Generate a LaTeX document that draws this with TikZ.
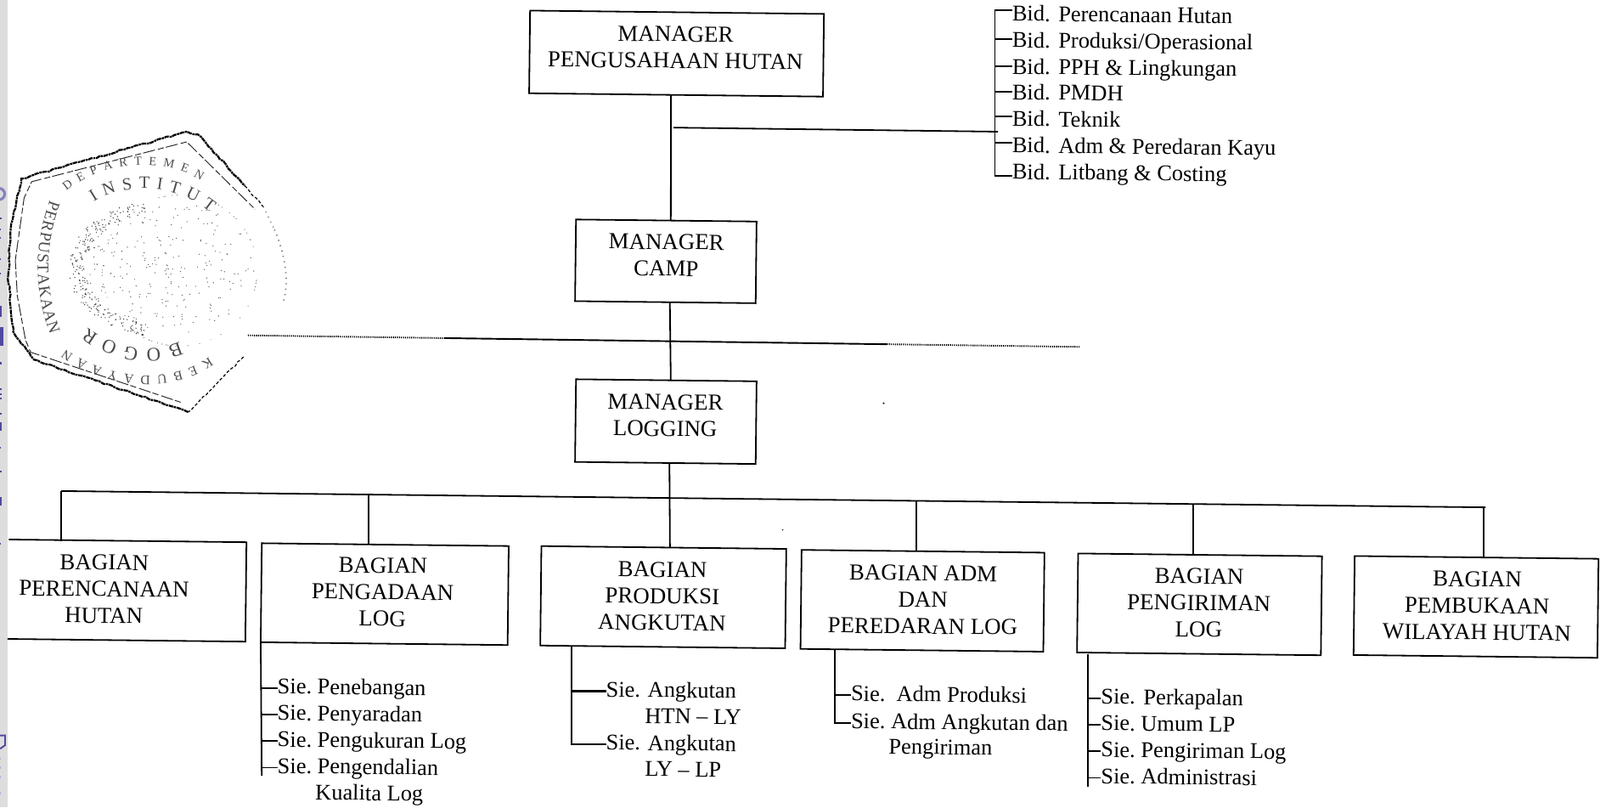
\documentclass[tikz,border=0pt]{standalone}
\usepackage{fontspec}
\setmainfont{Liberation Serif}
\usetikzlibrary{decorations.text,decorations.pathmorphing,calc}
\definecolor{stripgray}{HTML}{DDDDDD}
\definecolor{markblue}{HTML}{4F4A9F}
\tikzset{
  x=.5pt,y=-.5pt,
  ln/.style={line width=.75pt,black},
  bx/.style={draw=black,line width=.75pt,rotate=-.65,inner sep=0pt,outer sep=0pt},
  bxopen/.style={bx,draw=none},
  lbl/.style={rotate=-.65,align=center,inner sep=0pt,outer sep=0pt,font=\fontsize{11.2}{13}\selectfont},
  item/.style={anchor=west,rotate=-.65,inner sep=0pt,outer sep=0pt,text height=7.5pt,text depth=2pt,
             font=\fontsize{11}{13}\selectfont},
  stampline/.style={line width=.95pt,black,dash pattern=on 2.2pt off .35pt on 1.1pt off .3pt,decorate,decoration={random steps,segment length=2pt,amplitude=.4pt}},
  stampthin/.style={line width=.4pt,black!85,dash pattern=on 3pt off 1pt on 6pt off 1.5pt},
  stampfade/.style={line width=.5pt,black!55,dash pattern=on .5pt off 2.2pt},
  stamptext/.style n args={2}{decorate,decoration={text along path,text align=fit to path,
      text={|\fontsize{#1}{#1}\selectfont\color{black!70}|#2}}},
  speck/.style={fill=black!80,draw=none},
}
\begin{document}
\begin{tikzpicture}
\useasboundingbox (0,0) rectangle (1568,791);
\fill[white] (0,0) rectangle (1568,791);

% left strip with the cut remains of the margin mark
\fill[stripgray] (0,0) rectangle (7.5,791);
\begin{scope}
\clip (0,0) rectangle (7.5,791);
\draw[markblue!70,line width=1.3pt] (-1,190) circle (5.6);
\foreach \a/\b/\w in {256/258/2,269/271/1.5,279/281/1.5,304/306/1.5,321/323/1.5,360/373/2,385/407/3.5,426/429/2,
   457/459/2,463/465/2,468/470/2,486/488/2,497/507/2,526/528/1.5,554/556/2,585/595/2,639/641/1.5}
  {\fill[markblue] (0,{\a/1.2015}) rectangle ({\w/1.2015},{\b/1.2015});}
\draw[markblue,line width=.8pt] (0,720.5) -- (5,720.5) -- (5,730) -- (0,733.5);
\foreach \a in {742,751,760,776}
  {\fill[markblue!45] (0,\a) rectangle (1,{\a+2});}
\end{scope}

% stamp
\draw[stampline] (8,270) -- (11,219) -- (21,175) -- (183,129) -- (194,131.8) -- (240,182);
\draw[stampline] (184.5,403.7) -- (33.3,352.3) -- (13,325) -- (8,270);
\draw[stampline,line width=.5pt,dash pattern=on 1.5pt off 1pt] (240,182) -- (258,202.5);
\draw[stampline,line width=.5pt,dash pattern=on 1.5pt off 1pt] (238.6,349.6) -- (184.5,403.7);
\draw[stampfade] (258,202.5) -- (269,225);
\draw[stampfade,line width=.7pt] (269,225) .. controls (280,250) and (284,280) .. (277,297);
\draw[stampthin] (15,255) -- (23.6,194) -- (31,178) -- (183,139) -- (250,205);
\draw[stampthin] (177,394) -- (30,345) -- (25,333) -- (17,290) -- (15,255);
\path[stamptext={6}{D E P A R T E M E N}] (65,187) .. controls (100,158) and (160,153) .. (197,177);
\path[stamptext={8.5}{I N S T I T U T}] (92,198) .. controls (120,179) and (172,179) .. (206,208);
\path[stamptext={8}{PERPUSTAKAAN}] (49,196) .. controls (33,240) and (33,282) .. (49,328);
\path[stamptext={9.5}{B O G O R}] (176,335) .. controls (150,347) and (115,343) .. (86,321);
\path[stamptext={6.5}{K E B U D A Y A A N}] (205,350) .. controls (170,375) and (110,375) .. (64,342);
\pgfmathsetseed{11}
\foreach \i in {1,...,260}{
  \pgfmathsetmacro\ang{rnd*360}
  \pgfmathsetmacro\rad{sqrt(rnd)}
  \fill[black!65] ({158+91*\rad*cos(\ang)},{263+67*\rad*sin(\ang)}) circle (.55);
}
\foreach \i in {1,...,230}{
  \pgfmathsetmacro\ang{100+rnd*160}
  \pgfmathsetmacro\rad{.82+.18*rnd}
  \fill[black!75] ({158+91*\rad*cos(\ang)},{263+67*\rad*sin(\ang)}) circle (.6);
}
\foreach \i in {1,...,50}{
  \pgfmathsetmacro\ang{rnd*360}
  \fill[black!60] ({176+76*cos(\ang)},{265+74*sin(\ang)}) circle (.5);
}

% horizontal line across the camp level
\coordinate (ha) at (243,328.5);
\coordinate (hb) at (436,331.2);
\coordinate (hc) at (869,337.2);
\coordinate (hd) at (1058.5,339.8);
\draw[line width=.8pt,dash pattern=on .5pt off .5pt] (ha) -- (hb);
\draw[line width=.8pt] (hb) -- (hc);
\draw[line width=.8pt,dash pattern=on .5pt off .5pt] (hc) -- (hd);

% managers
\node[bx,minimum width=144pt,minimum height=40.5pt] (m1) at (663,52.5) {};
\node[lbl] (m1t) at (662,46.5) {MANAGER\\PENGUSAHAAN HUTAN};
\node[bx,minimum width=88.5pt,minimum height=40pt] (m2) at (652.5,256) {};
\node[lbl] (m2t) at (653,250) {MANAGER\\CAMP};
\node[bx,minimum width=88.5pt,minimum height=40.5pt] (m3) at (652.5,413) {};
\node[lbl] (m3t) at (652,407) {MANAGER\\LOGGING};

% bagian
\node[bxopen,minimum width=116.5pt,minimum height=48.7pt] (b1) at (124.5,578.5) {};
\node[lbl] (b1t) at (102,577) {BAGIAN\\PERENCANAAN\\HUTAN};
\node[bx,minimum width=121pt,minimum height=48.5pt] (b2) at (377,582) {};
\node[lbl] (b2t) at (375,580) {BAGIAN\\PENGADAAN\\LOG};
\node[bx,minimum width=120pt,minimum height=48.7pt] (b3) at (650,585) {};
\node[lbl] (b3t) at (649,584) {BAGIAN\\PRODUKSI\\ANGKUTAN};
\node[bx,minimum width=119pt,minimum height=48.5pt] (b4) at (904,588.5) {};
\node[lbl] (b4t) at (904.5,587.5) {BAGIAN ADM\\DAN\\PEREDARAN LOG};
\node[bx,minimum width=119.5pt,minimum height=48.5pt] (b5) at (1175.5,592) {};
\node[lbl] (b5t) at (1175,590.5) {BAGIAN\\PENGIRIMAN\\LOG};
\node[bx,minimum width=119.5pt,minimum height=48.5pt] (b6) at (1446.5,594.5) {};
\node[lbl] (b6t) at (1447.5,593.5) {BAGIAN\\PEMBUKAAN\\WILAYAH HUTAN};
\draw[ln] (b1.north west) -- (b1.north east) -- (b1.south east) -- (b1.south west);

% trunk
\draw[ln] ([xshift=-2.5pt]m1.south) -- ([xshift=2.2pt]m2.north);
\draw[ln] ([xshift=2.2pt]m2.south) -- ([xshift=2.2pt]m3.north);
\draw[ln] ([xshift=2pt]m3.south) -- ([xshift=3pt]b3.north);

% main horizontal bus
\coordinate (busl) at (60,481);
\coordinate (busr) at (1456,497);
\draw[ln] (busl) -- (busr);
\draw[ln] (busl) -- (busl |- b1.north);
\coordinate (bus2) at (361,484.5);
\draw[ln] (bus2) -- (bus2 |- b2.north);
\coordinate (bus4) at (898,491);
\draw[ln] (bus4) -- (bus4 |- b4.north);
\coordinate (bus5) at (1169,494);
\draw[ln] (bus5) -- (bus5 |- b5.north);
\coordinate (bus6) at (1454,497);
\draw[ln] (bus6) -- (bus6 |- b6.north);

% Bidang list
\node[item] (bid1) at (992,15) {Bid.\hspace{4pt}Perencanaan Hutan};
\node[item] (bid2) at (992,41) {Bid.\hspace{4pt}Produksi/Operasional};
\node[item] (bid3) at (992,67) {Bid.\hspace{4pt}PPH \& Lingkungan};
\node[item] (bid4) at (992,92) {Bid.\hspace{4pt}PMDH};
\node[item] (bid5) at (992,118) {Bid.\hspace{4pt}Teknik};
\node[item] (bid6) at (992,144) {Bid.\hspace{4pt}Adm \& Peredaran Kayu};
\node[item] (bid7) at (992,170) {Bid.\hspace{4pt}Litbang \& Costing};
\coordinate (bidspine) at (975,8);
\coordinate (bt1) at ([yshift=2.6pt]bid1.west);
\coordinate (bt7) at ([yshift=-1pt]bid7.west);
\draw[ln] (bt1) -- (bidspine |- bt1) -- (bidspine |- bt7) -- (bt7);
\foreach \k/\s in {2/1.5pt,3/1pt,4/1pt,5/2pt,6/2pt}{
  \coordinate (bt\k) at ([yshift=\s]bid\k.west);
  \draw[ln] (bidspine |- bt\k) -- (bt\k);
}
\coordinate (m1tap) at (660,125);
\coordinate (m1tapr) at (978,129);
\draw[ln] (m1tap) -- (m1tapr);

% Sie lists: Pengadaan
\node[item] (a1) at (272,674) {Sie.\ Penebangan};
\node[item] (a2) at (272,700) {Sie.\ Penyaradan};
\node[item] (a3) at (272,726) {Sie.\ Pengukuran Log};
\node[item] (a4) at (272,752) {Sie.\ Pengendalian};
\node[item] (a5) at (309,778) {Kualita Log};
\coordinate (aend) at (256.5,760);
\draw[ln] (b2.south west) -- (aend);
\foreach \k in {1,...,4}{\draw[ln] (aend |- a\k.west) -- (a\k.west);}

% Produksi
\node[item] (c1) at (594,677) {Sie.\hspace{3.6pt}Angkutan};
\node[item] (c2) at (632,703) {HTN -- LY};
\node[item] (c3) at (594,729) {Sie.\hspace{3.6pt}Angkutan};
\node[item] (c4) at (632,755) {LY -- LP};
\coordinate (cstart) at (560,633);
\draw[ln] (cstart) -- (cstart |- c3.west) -- (c3.west);
\draw[ln,line width=.9pt] (cstart |- c1.west) -- (c1.west);

% Adm
\node[item] (e1) at (834,681) {Sie.\ \ Adm Produksi};
\node[item] (e2) at (834,708) {Sie.\ Adm Angkutan dan};
\node[item] (e3) at (871,733) {Pengiriman};
\coordinate (estart) at (818,637);
\draw[ln] (estart) -- (estart |- e2.west) -- (e2.west);
\draw[ln] (estart |- e1.west) -- (e1.west);

% Pengiriman
\node[item] (f1) at (1079,684) {Sie.\hspace{4pt}Perkapalan};
\node[item] (f2) at (1079,710) {Sie.\ Umum LP};
\node[item] (f3) at (1079,736) {Sie.\ Pengiriman Log};
\node[item] (f4) at (1079,762) {Sie.\ Administrasi};
\coordinate (fstart) at (1066,641);
\coordinate (fend) at (1066,771);
\draw[ln] (fstart) -- (fend);
\foreach \k in {1,...,4}{\draw[ln] (fstart |- f\k.west) -- (f\k.west);}

% scan specks
\fill[speck] (866,395) circle (1);
\fill[speck] (767,519) circle (.8);
\end{tikzpicture}
\end{document}
